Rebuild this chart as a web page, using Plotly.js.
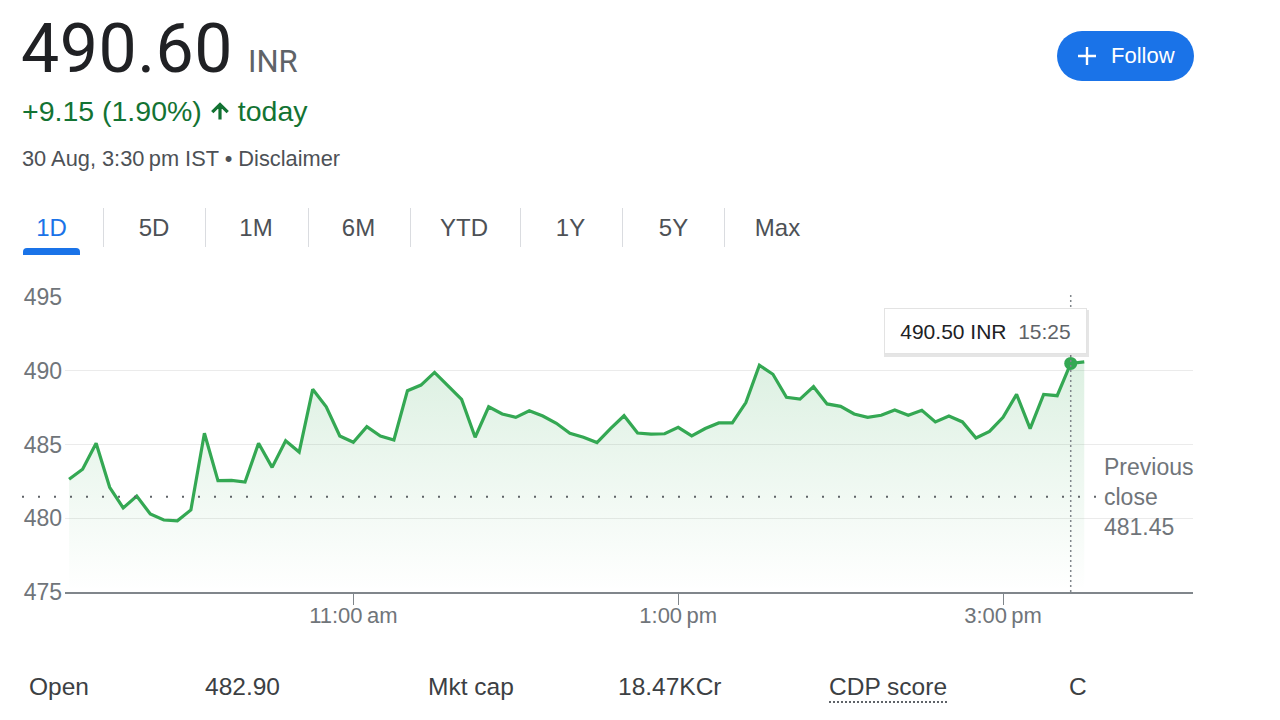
<!DOCTYPE html>
<html><head><meta charset="utf-8">
<script src="https://cdn.plot.ly/plotly-3.0.1.min.js"></script>
<style>
html,body{margin:0;padding:0;background:#fff;width:1280px;height:720px;overflow:hidden;font-family:"Liberation Sans",Arial,sans-serif;}
#wrap{position:relative;width:1280px;height:720px;}
#chart{position:absolute;left:0;top:0;width:1280px;height:720px;}
.t{position:absolute;white-space:nowrap;line-height:1;}
.sep{position:absolute;top:208px;width:1px;height:39px;background:#dadce0;}
</style></head><body>
<div id="wrap">
<div id="chart"></div>
<div id="overlay"></div>
</div>
<script>
// ---------- data ----------
const day = '2024-08-30';
const times = ['09:15','09:20','09:25','09:30','09:35','09:40','09:45','09:50','09:55',
'10:00','10:05','10:10','10:15','10:20','10:25','10:30','10:35','10:40','10:45','10:50','10:55',
'11:00','11:05','11:10','11:15','11:20','11:25','11:30','11:35','11:40','11:45','11:50','11:55',
'12:00','12:05','12:10','12:15','12:20','12:25','12:30','12:35','12:40','12:45','12:50','12:55',
'13:00','13:05','13:10','13:15','13:20','13:25','13:30','13:35','13:40','13:45','13:50','13:55',
'14:00','14:05','14:10','14:15','14:20','14:25','14:30','14:35','14:40','14:45','14:50','14:55',
'15:00','15:05','15:10','15:15','15:20','15:25','15:30'];
const prices = [482.64,483.32,485.08,482.10,480.70,481.50,480.29,479.88,479.83,480.56,
485.76,482.55,482.57,482.46,485.08,483.45,485.26,484.49,488.74,487.56,
485.58,485.15,486.21,485.58,485.31,488.65,489.03,489.89,488.97,488.06,
485.49,487.56,487.07,486.84,487.29,486.93,486.44,485.76,485.49,485.13,
486.08,486.95,485.78,485.71,485.73,486.16,485.58,486.08,486.46,486.46,
487.84,490.37,489.76,488.20,488.08,488.92,487.75,487.59,487.07,486.84,
486.98,487.34,486.98,487.32,486.53,486.93,486.53,485.44,485.89,486.84,
488.40,486.08,488.40,488.31,490.50,490.60];
const previousClose = 481.45;
const hoverTime = '15:25';
const currency = 'INR';
const lastPrice = '490.60';
const changeText = '+9.15 (1.90%)';
const dateText = '30 Aug, 3:30\u2009pm IST \u2022 Disclaimer';
const yTicks = [475,480,485,490,495];
const xTickTimes = ['11:00','13:00','15:00'];
const xTickLabels = ['11:00\u2009am','1:00\u2009pm','3:00\u2009pm'];
const tabs = ['1D','5D','1M','6M','YTD','1Y','5Y','Max'];
const statLabels = ['Open','Mkt cap','CDP score'];
const statValues = ['482.90','18.47KCr','C'];

// ---------- chart ----------
const L=65,R=1193,T=297,B=592;
const pxX = p => (p-L)/(R-L);
const pxY = p => (B-p)/(B-T);
const xs = times.map(t => day+' '+t);
const hi = times.indexOf(hoverTime);

const traces = [{
  x: xs, y: prices, type:'scatter', mode:'lines',
  line:{color:'#34a853', width:3.2},
  fill:'tozeroy',
  fillgradient:{type:'vertical', start:475, stop:490.6,
    colorscale:[[0,'rgba(52,168,83,0.0)'],[1,'rgba(52,168,83,0.17)']]},
  hoverinfo:'skip'
},{
  x:[xs[hi]], y:[prices[hi]], type:'scatter', mode:'markers',
  marker:{color:'#34a853', size:13}, hoverinfo:'skip'
}];

const layout = {
  width:1280, height:720,
  margin:{l:L, r:1280-R, t:T, b:720-B, pad:0},
  paper_bgcolor:'#fff', plot_bgcolor:'#fff',
  showlegend:false,
  font:{family:'"Liberation Sans", Arial, sans-serif', color:'#70757a'},
  xaxis:{type:'date', range:[day+' 09:13:30', day+' 16:10:10'],
    tickvals: xTickTimes.map(t=>day+' '+t), ticktext: xTickLabels,
    ticks:'outside', ticklen:11, tickwidth:1, tickcolor:'#80868b',
    showline:true, linecolor:'#80868b', linewidth:1.5,
    showgrid:false, zeroline:false, fixedrange:true, ticklabelstandoff:-8,
    tickfont:{size:22, color:'#70757a'}},
  yaxis:{range:[475,495], tickvals:yTicks, ticks:'', showline:false,
    gridcolor:'#ebebeb', gridwidth:1, zeroline:false, fixedrange:true,
    tickfont:{size:23, color:'#70757a'}, ticklabelstandoff:2},
  shapes:[
    {type:'line', xref:'paper', yref:'y', x0:pxX(22), x1:pxX(1096), y0:previousClose, y1:previousClose,
     line:{color:'#5f6368', width:2, dash:'2px,14px'}, layer:'above'},
    {type:'line', xref:'x', yref:'paper', x0:xs[hi], x1:xs[hi], y0:0, y1:pxY(295),
     line:{color:'#80868b', width:1.5, dash:'2px,3px'}, layer:'above'},
    {type:'rect', xref:'paper', yref:'paper', x0:pxX(884), x1:pxX(1089), y0:pxY(357), y1:pxY(310),
     fillcolor:'rgba(0,0,0,0.10)', line:{width:0}, layer:'above'}
  ],
  annotations:[
    {xref:'paper', yref:'paper', x:pxX(985.5), y:pxY(331), xanchor:'center', yanchor:'middle',
     text: prices[hi].toFixed(2)+' '+currency+'&nbsp;&nbsp;<span style="fill:#5f6368">'+hoverTime+'</span>',
     showarrow:false, bgcolor:'#ffffff', bordercolor:'#e3e3e3', borderwidth:1, borderpad:9,
     width:183, height:26, font:{size:21, color:'#202124', family:'"Liberation Sans", Arial, sans-serif'}},
    {xref:'paper', yref:'paper', x:pxX(1102), y:pxY(497), xanchor:'left', yanchor:'middle', align:'left',
     text:'Previous<br>close<br>'+previousClose.toFixed(2), showarrow:false,
     font:{size:23, color:'#70757a', family:'"Liberation Sans", Arial, sans-serif'}}
  ]
};
Plotly.newPlot('chart', traces, layout, {displayModeBar:false, staticPlot:true});

// ---------- page header / footer ----------
const ov = document.getElementById('overlay');
function add(html){ ov.insertAdjacentHTML('beforeend', html); }
add(`<div class="t" style="left:21px;top:15px;font-family:Roboto,sans-serif;font-size:68px;color:#202124;letter-spacing:0.5px;">${lastPrice}</div>`);
add(`<div class="t" style="left:248px;top:46px;font-family:Roboto,sans-serif;font-size:31px;color:#5f6368;">${currency}</div>`);
add(`<div class="t" style="left:22px;top:97px;font-size:28.5px;color:#137333;display:flex;align-items:center;">
  <span>${changeText}</span>
  <svg width="24" height="26" viewBox="0 0 24 24" style="margin:0 6px 0 6px"><path d="M4 12l1.41 1.41L11 7.83V20h2V7.83l5.58 5.59L20 12l-8-8-8 8z" fill="#137333" stroke="#137333" stroke-width="1.2"/></svg>
  <span>today</span></div>`);
add(`<div class="t" style="left:22px;top:148px;font-size:21.8px;color:#4d5156;">${dateText}</div>`);
const tabCenters=[51.5,154,256,358.5,464,570.5,673.5,777.5];
tabs.forEach((tb,i)=>{
  add(`<div class="t" style="left:${tabCenters[i]-50}px;width:100px;text-align:center;top:216px;font-size:24px;color:${i===0?'#1a73e8':'#4d5156'};">${tb}</div>`);
});
[103,205,308,410,520,622,724].forEach(x=>add(`<div class="sep" style="left:${x}px"></div>`));
add(`<div style="position:absolute;left:23px;top:248px;width:57px;height:7px;background:#1a73e8;border-radius:4px 4px 0 0;"></div>`);
add(`<div style="position:absolute;left:1057px;top:31px;width:137px;height:50px;border-radius:25px;background:#1a73e8;">
  <svg width="24" height="24" viewBox="0 0 24 24" style="position:absolute;left:18px;top:13px"><path d="M12 3v18M3 12h18" stroke="#fff" stroke-width="2.4"/></svg>
  <div class="t" style="left:54px;top:14px;font-size:22px;color:#fff;">Follow</div></div>`);
const statX=[29,205,428,618,829,1069];
statLabels.forEach((lb,i)=>{
  const deco = lb==='CDP score' ? 'text-decoration:underline dotted #5f6368;text-underline-offset:6px;text-decoration-thickness:2px;' : '';
  add(`<div class="t" style="left:${statX[2*i]}px;top:675px;font-size:24.5px;color:#3c4043;${deco}">${lb}</div>`);
  add(`<div class="t" style="left:${statX[2*i+1]}px;top:675px;font-size:24.5px;color:#3c4043;">${statValues[i]}</div>`);
});
</script>
</body></html>
